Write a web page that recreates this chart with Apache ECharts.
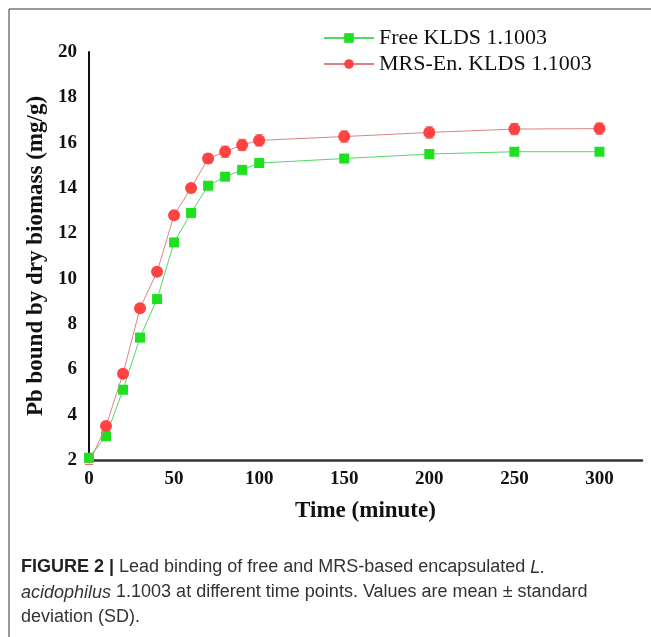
<!DOCTYPE html>
<html>
<head>
<meta charset="utf-8">
<script src="https://cdn.jsdelivr.net/npm/echarts@6/dist/echarts.min.js"></script>
<style>
  html, body { margin: 0; padding: 0; background: #fff; }
  #chart { width: 651px; height: 637px; }
</style>
</head>
<body>
<div id="chart"></div>
<script>
// time points (minute)
const times = [0, 10, 20, 30, 40, 50, 60, 70, 80, 90, 100, 150, 200, 250, 300];
// Pb bound (mg/g)
const freeVals = [2.1, 3.05, 5.1, 7.4, 9.1, 11.6, 12.9, 14.1, 14.5, 14.8, 15.1, 15.3, 15.5, 15.6, 15.6];
const freeSD = [0.05, 0.05, 0.05, 0.1, 0.1, 0.1, 0.1, 0.1, 0.1, 0.1, 0.15, 0.1, 0.15, 0.15, 0.15];
const mrsVals = [1.85, 3.5, 5.8, 8.7, 10.3, 12.8, 14.0, 15.3, 15.6, 15.9, 16.1, 16.27, 16.45, 16.6, 16.62];
const mrsSD = [0.05, 0.05, 0.1, 0.1, 0.1, 0.1, 0.1, 0.2, 0.25, 0.25, 0.25, 0.25, 0.25, 0.25, 0.25];
const seriesNames = ['Free KLDS 1.1003', 'MRS-En. KLDS 1.1003'];

const serif = '"Liberation Serif", "Times New Roman", serif';
const sans = '"Liberation Sans", Arial, sans-serif';

// 误差线 custom series
function errorBars(vals, sd, color) {
  return {
    type: 'custom',
    silent: true,
    z: 1,
    data: times.map((t, i) => [t, vals[i] - sd[i], vals[i] + sd[i]]),
    renderItem: function (params, api) {
      const lo = api.coord([api.value(0), api.value(1)]);
      const hi = api.coord([api.value(0), api.value(2)]);
      const w = 4;
      const st = { stroke: color, lineWidth: 1 };
      return {
        type: 'group',
        children: [
          { type: 'line', shape: { x1: lo[0], y1: lo[1], x2: hi[0], y2: hi[1] }, style: st },
          { type: 'line', shape: { x1: lo[0] - w, y1: lo[1], x2: lo[0] + w, y2: lo[1] }, style: st },
          { type: 'line', shape: { x1: hi[0] - w, y1: hi[1], x2: hi[0] + w, y2: hi[1] }, style: st }
        ]
      };
    }
  };
}

const chart = echarts.init(document.getElementById('chart'), null, { renderer: 'canvas' });

const option = {
  backgroundColor: '#fff',
  animation: false,
  grid: { left: 89, right: 9, top: 52, bottom: 177, containLabel: false },
  legend: {
    orient: 'vertical',
    left: 318,
    top: 22,
    itemWidth: 50,
    itemHeight: 12,
    itemGap: 4,
    data: seriesNames,
    textStyle: { fontFamily: serif, fontSize: 22, color: '#111' }
  },
  xAxis: {
    type: 'value',
    min: 0,
    max: 325,
    interval: 50,
    name: 'Time (minute)',
    nameLocation: 'middle',
    nameGap: 40,
    nameTextStyle: { fontFamily: serif, fontSize: 23, fontWeight: 'bold', color: '#111' },
    axisLine: { lineStyle: { color: '#333', width: 2.5 } },
    axisTick: { show: false },
    splitLine: { show: false },
    axisLabel: {
      margin: 10,
      fontFamily: serif,
      fontSize: 19,
      fontWeight: 'bold',
      color: '#111',
      formatter: v => (v % 50 === 0 ? String(v) : '')
    }
  },
  yAxis: {
    type: 'value',
    min: 2,
    max: 20,
    interval: 2,
    name: 'Pb bound by dry biomass (mg/g)',
    nameLocation: 'middle',
    nameGap: 40,
    nameTextStyle: { fontFamily: serif, fontSize: 23, fontWeight: 'bold', color: '#111' },
    axisLine: { show: true, lineStyle: { color: '#111', width: 2 } },
    axisTick: { show: false },
    splitLine: { show: false },
    axisLabel: { margin: 12, fontFamily: serif, fontSize: 19, fontWeight: 'bold', color: '#111' }
  },
  series: [
    errorBars(freeVals, freeSD, '#3fcf55'),
    errorBars(mrsVals, mrsSD, '#e07070'),
    {
      name: seriesNames[0],
      type: 'line',
      z: 3,
      data: times.map((t, i) => [t, freeVals[i]]),
      symbol: 'rect',
      symbolSize: 10,
      itemStyle: { color: '#1fe01f' },
      lineStyle: { color: '#52d866', width: 1 }
    },
    {
      name: seriesNames[1],
      type: 'line',
      z: 4,
      data: times.map((t, i) => [t, mrsVals[i]]),
      symbol: 'circle',
      symbolSize: 12,
      itemStyle: { color: '#ff4242' },
      lineStyle: { color: '#dc8282', width: 1 }
    }
  ],
  graphic: [
    // 外框
    { type: 'line', shape: { x1: 9, y1: 9, x2: 651, y2: 9 }, style: { stroke: '#777', lineWidth: 1.5 } },
    { type: 'line', shape: { x1: 9, y1: 9, x2: 9, y2: 637 }, style: { stroke: '#777', lineWidth: 1.5 } },
    // 图注
    {
      type: 'text',
      left: 21,
      top: 555,
      style: {
        text: '{b|FIGURE 2 |} Lead binding of free and MRS-based encapsulated {i|L.}\n' +
              '{i|acidophilus} 1.1003 at different time points. Values are mean ± standard\n' +
              'deviation (SD).',
        fontFamily: sans,
        fontSize: 18,
        lineHeight: 25,
        fill: '#333',
        rich: {
          b: { fontWeight: 'bold', fontFamily: sans, fontSize: 18, lineHeight: 25, fill: '#222' },
          i: { fontStyle: 'italic', fontFamily: sans, fontSize: 18, lineHeight: 25, fill: '#333' }
        }
      }
    }
  ]
};

chart.setOption(option);
</script>
</body>
</html>
